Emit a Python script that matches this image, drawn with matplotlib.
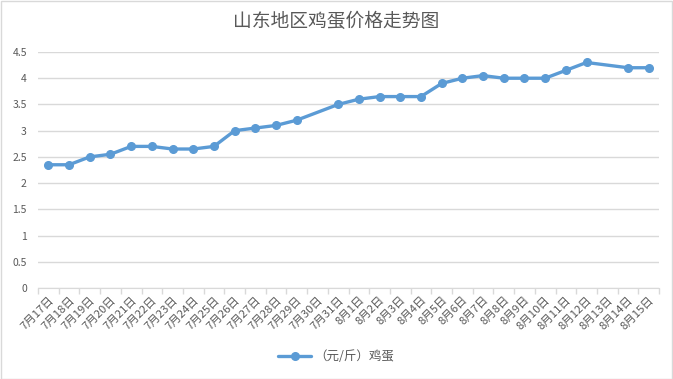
import numpy as np
import matplotlib
matplotlib.use("Agg")
import matplotlib.pyplot as plt

plt.rcParams["font.family"] = ["Noto Sans CJK SC", "DejaVu Sans"]

dates = ["7月17日", "7月18日", "7月19日", "7月20日", "7月21日", "7月22日",
         "7月23日", "7月24日", "7月25日", "7月26日", "7月27日", "7月28日",
         "7月29日", "7月30日", "7月31日", "8月1日", "8月2日", "8月3日",
         "8月4日", "8月5日", "8月6日", "8月7日", "8月8日", "8月9日",
         "8月10日", "8月11日", "8月12日", "8月13日", "8月14日", "8月15日"]
# NaN = no data for that day (line is connected across the gap)
price = [2.35, 2.35, 2.5, 2.55, 2.7, 2.7,
         2.65, 2.65, 2.7, 3.0, 3.05, 3.1,
         3.2, np.nan, 3.5, 3.6, 3.65, 3.65,
         3.65, 3.9, 4.0, 4.05, 4.0, 4.0,
         4.0, 4.15, 4.3, np.nan, 4.2, 4.2]
yticks = [0, 0.5, 1, 1.5, 2, 2.5, 3, 3.5, 4, 4.5]
yticklabels = ["0", "0.5", "1", "1.5", "2", "2.5", "3", "3.5", "4", "4.5"]

text_color = "#595959"
grid_color = "#D9D9D9"
line_color = "#5B9BD5"

fig = plt.figure(figsize=(6.73, 3.79), dpi=100)
ax = fig.add_axes([38 / 673, (379 - 288) / 379, (659 - 38) / 673, (288 - 52) / 379])

x = np.arange(len(dates))
y = np.array(price, dtype=float)
ok = ~np.isnan(y)
ax.plot(x[ok], y[ok], color=line_color, linewidth=2.4, marker="o",
        markersize=5.5, label="（元/斤）鸡蛋", solid_capstyle="round")

ax.set_xlim(-0.5, len(dates) - 0.5)
ax.set_ylim(0, 4.5)
ax.set_yticks(yticks)
ax.set_yticklabels(yticklabels)
ax.grid(axis="y", color=grid_color, linewidth=1)
ax.set_axisbelow(True)

ax.set_xticks(x)
ax.set_xticklabels(dates, rotation=45, ha="right", va="top", rotation_mode="anchor")
ax.set_xticks(np.arange(-0.5, len(dates), 1), minor=True)
ax.tick_params(axis="x", which="major", length=0, pad=5, labelsize=8.2, colors=text_color)
ax.tick_params(axis="x", which="minor", length=4, color=grid_color, width=1)
ax.tick_params(axis="y", length=0, labelsize=7.5, colors=text_color, pad=8)

for side in ["top", "right", "left"]:
    ax.spines[side].set_visible(False)
ax.spines["bottom"].set_color(grid_color)

fig.suptitle("山东地区鸡蛋价格走势图", x=0.5, y=0.97, fontsize=13.5, color=text_color)

leg = fig.legend(loc="center", bbox_to_anchor=(0.5, 1 - 357 / 379), frameon=False,
                 fontsize=9, labelcolor=text_color, handlelength=2.6, handletextpad=0.3)

# chart border
fig.patches.append(plt.Rectangle((0.001, 0.001), 0.997, 0.997, transform=fig.transFigure,
                                 fill=False, edgecolor="#D9D9D9", linewidth=1))

fig.savefig("out.png", dpi=100)
